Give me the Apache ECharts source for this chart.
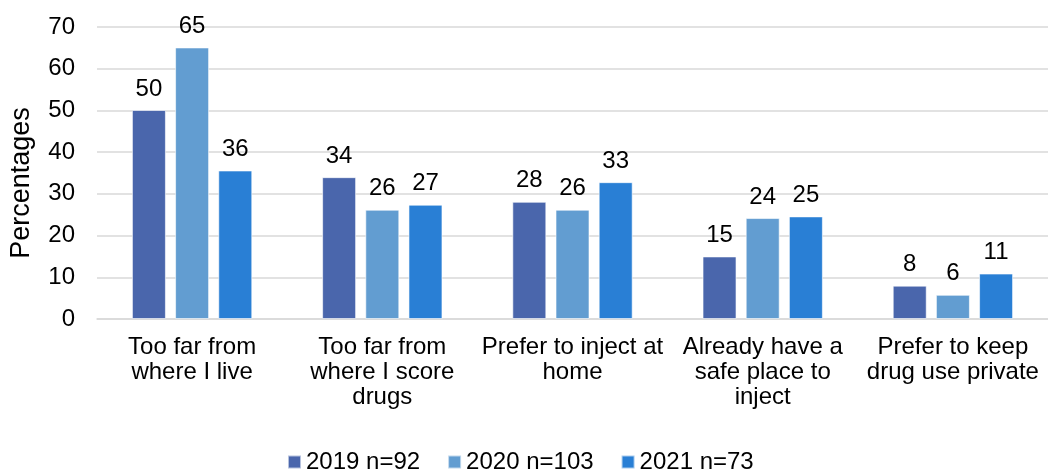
<!DOCTYPE html>
<html><head><meta charset="utf-8">
<script src="https://cdn.jsdelivr.net/npm/echarts@6/dist/echarts.min.js"></script>
<style>html,body{margin:0;padding:0;background:#fff}#c{width:1048px;height:471px}</style>
</head><body><div id="c"></div>
<script>
const categories = ["Too far from\nwhere I live", "Too far from\nwhere I score\ndrugs", "Prefer to inject at\nhome", "Already have a\nsafe place to\ninject", "Prefer to keep\ndrug use private"];
const seriesNames = ["2019 n=92", "2020 n=103", "2021 n=73"];
const values2019 = [50.1, 34.0, 28.1, 15.0, 8.0];
const values2020 = [65.1, 26.2, 26.2, 24.2, 5.8];
const values2021 = [35.6, 27.4, 32.8, 24.6, 10.9];
const colors = ["#4a66ac", "#629dd1", "#297fd5"];
const yTicks = {min: 0, max: 70, interval: 10};

const font = "Liberation Sans, Arial, sans-serif";
const fs = 24;
const chart = echarts.init(document.getElementById('c'));
const mk = (name, data, color) => ({
  name, type: 'bar', data, barWidth: 34, barGap: '27%',
  itemStyle: {color, borderColor: 'rgba(255,255,255,0.6)', borderWidth: 1},
  label: {show: true, position: 'top', distance: 9, color: '#000', fontSize: fs, fontFamily: font,
    formatter: p => Math.round(p.value)}
});
chart.setOption({
  animation: false,
  grid: {left: 94, right: -3, top: 27, bottom: 152, containLabel: false},
  legend: {bottom: -8, left: 282, itemWidth: 13, itemHeight: 13, itemGap: 27, icon: 'rect',
    textStyle: {fontSize: fs, fontFamily: font, color: '#000'},
    data: seriesNames},
  xAxis: {type: 'category', data: categories,
    axisLine: {lineStyle: {color: '#d9d9d9', width: 1.5}}, axisTick: {show: false},
    axisLabel: {color: '#000', fontSize: fs, fontFamily: font, lineHeight: 25, margin: 16, interval: 0}},
  yAxis: {type: 'value', min: yTicks.min, max: yTicks.max, interval: yTicks.interval,
    name: 'Percentages', nameLocation: 'middle', nameGap: 62, nameRotate: 90,
    nameTextStyle: {color: '#000', fontSize: 27, fontFamily: font, padding: [0, 20, 0, 0]},
    axisLine: {show: false}, axisTick: {show: false},
    axisLabel: {color: '#000', fontSize: fs, fontFamily: font, margin: 22},
    splitLine: {lineStyle: {color: '#d9d9d9', width: 1.5}}},
  series: [mk(seriesNames[0], values2019, colors[0]), mk(seriesNames[1], values2020, colors[1]), mk(seriesNames[2], values2021, colors[2])]
});
</script></body></html>
